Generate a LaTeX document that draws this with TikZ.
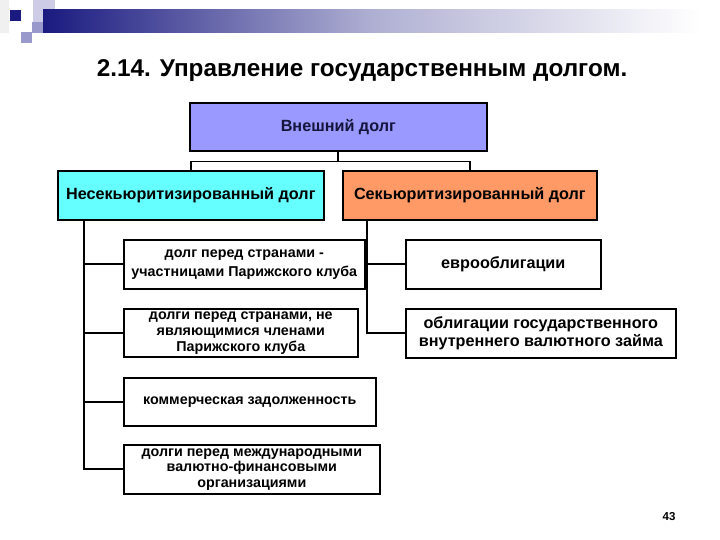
\documentclass[tikz,border=0pt]{standalone}
\usepackage{fontspec}
\setmainfont{Liberation Sans}
\definecolor{navy}{RGB}{26,26,128}
\definecolor{lav}{RGB}{153,153,204}
\definecolor{lightlav}{RGB}{204,204,230}
\definecolor{topfill}{RGB}{153,153,255}
\definecolor{cyanfill}{RGB}{102,255,255}
\definecolor{orangefill}{RGB}{255,153,102}
\definecolor{toptext}{RGB}{20,20,60}
\tikzset{
  bx/.style={draw=black, line width=1.6pt, anchor=north west, inner sep=0pt, align=center,
    font=\bfseries\fontsize{14.3}{16}\selectfont},
  bigbx/.style={bx, font=\bfseries\fontsize{16.2}{18}\selectfont},
  conn/.style={draw=black, line width=1.7pt},
}
\begin{document}
\begin{tikzpicture}[x=1pt,y=-1pt]
\useasboundingbox (0,0) rectangle (720,540);
\fill[white] (0,0) rectangle (720,540);
% decoration
\fill[black!6] (0,0) rectangle (9,33);
\fill[lightlav] (33,0) rectangle (55,22);
\fill[lav] (32,22) rectangle (43,33);
\fill[lav] (21,32) rectangle (32,43);
\fill[navy] (10,10) rectangle (21,21);
\shade[left color=navy, right color=white, middle color=navy!35!white] (43,10) rectangle (700,33);
% title
\node[font=\bfseries\fontsize{24.3}{28}\selectfont] (title) at (362,71) {2.14. Управление государственным долгом.};
% boxes
\node[bigbx, fill=topfill, text=toptext, minimum width=297pt, minimum height=48pt] (top) at (189,102) {Внешний долг};
\node[bigbx, fill=cyanfill, minimum width=266pt, minimum height=49pt] (left) at (57,170) {Несекьюритизированный долг};
\node[bigbx, fill=orangefill, minimum width=254pt, minimum height=49pt] (right) at (342,170) {Секьюритизированный долг};
\node[bx, minimum width=241pt, minimum height=49pt, font=\bfseries\fontsize{14.3}{19}\selectfont] (b1) at (123,239) {долг перед странами -\\участницами Парижского клуба};
\node[bx, minimum width=234pt, minimum height=48pt] (b2) at (123,308) {долги перед странами, не\\являющимися членами\\Парижского клуба};
\node[bx, minimum width=252pt, minimum height=48pt] (b3) at (123,377) {коммерческая задолженность};
\node[bx, minimum width=256pt, minimum height=49pt, font=\bfseries\fontsize{14.3}{15.5}\selectfont] (b4) at (123,444) {долги перед международными\\валютно-финансовыми\\организациями};
\node[bigbx, minimum width=195pt, minimum height=49pt] (r1) at (405,239) {еврооблигации};
\node[bigbx, minimum width=270pt, minimum height=49pt] (r2) at (405,308) {облигации государственного\\внутреннего валютного займа};
% page number
\node[font=\bfseries\fontsize{11.5}{13}\selectfont] (pg) at (669,517) {43};
% connectors
\draw[conn] (top.south) -- ++(0,10) coordinate (j);
\draw[conn] (left.north) |- (j) -| (right.north);
\coordinate (lt) at ([xshift=27pt]left.south west);
\draw[conn] (lt) |- (b4.west);
\foreach \b in {b1,b2,b3} \draw[conn] (\b.west) -| (lt);
\coordinate (rt) at ([xshift=25pt]right.south west);
\draw[conn] (rt) |- (r2.west);
\draw[conn] (r1.west) -| (rt);
\end{tikzpicture}
\end{document}
